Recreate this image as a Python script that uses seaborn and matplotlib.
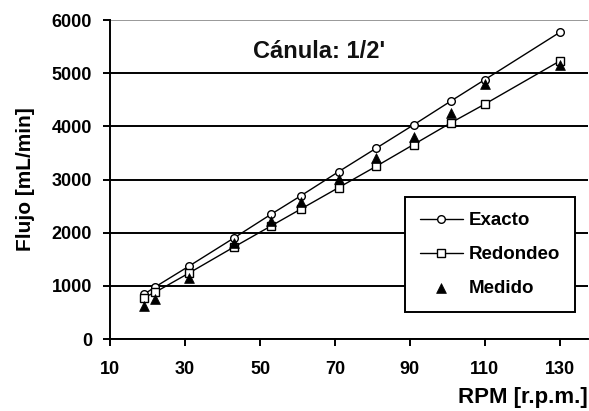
import matplotlib
matplotlib.use("Agg")
import matplotlib.pyplot as plt
import seaborn as sns

# values
rpm = [19, 22, 31, 43, 53, 61, 71, 81, 91, 101, 110, 130]
exacto = [840, 980, 1370, 1900, 2350, 2700, 3150, 3590, 4030, 4480, 4880, 5770]
redondeo = [780, 880, 1240, 1730, 2130, 2450, 2850, 3250, 3660, 4070, 4420, 5230]
medido = [620, 760, 1140, 1800, 2220, 2580, 3010, 3410, 3810, 4250, 4800, 5160]

x_ticks = [10, 30, 50, 70, 90, 110, 130]
y_ticks = [0, 1000, 2000, 3000, 4000, 5000, 6000]

sns.set_theme(style="white")
plt.rcParams['font.family'] = ['Liberation Sans', 'DejaVu Sans']
plt.rcParams['font.weight'] = 'bold'
plt.rcParams['text.color'] = 'black'
plt.rcParams['axes.labelcolor'] = 'black'

fig = plt.figure(figsize=(5.89, 4.11), dpi=100)
ax = fig.add_axes([0.187, 0.175, 0.811, 0.776])

sns.lineplot(x=rpm, y=exacto, ax=ax, color='black', linewidth=1,
             marker='o', markersize=5.5, markerfacecolor='white',
             markeredgecolor='black', markeredgewidth=1, label='Exacto', zorder=3)
sns.lineplot(x=rpm, y=redondeo, ax=ax, color='black', linewidth=1,
             marker='s', markersize=5.5, markerfacecolor='white',
             markeredgecolor='black', markeredgewidth=1, label='Redondeo', zorder=3)
sns.scatterplot(x=rpm, y=medido, ax=ax, color='black', marker='^', s=50,
                edgecolor='black', linewidth=0.5, label='Medido', zorder=4)

ax.set_xlim(10, 137.5)
ax.set_ylim(0, 6000)
ax.set_xticks(x_ticks)
ax.set_yticks(y_ticks)

ax.yaxis.grid(True, color='black', linewidth=1.4)
ax.xaxis.grid(False)
ax.get_ygridlines()[-1].set_color('0.6')
ax.set_axisbelow(True)

for side in ['top', 'right']:
    ax.spines[side].set_visible(False)
for side in ['left', 'bottom']:
    ax.spines[side].set_color('black')
    ax.spines[side].set_linewidth(1.4)

ax.tick_params(axis='both', which='major', direction='out', length=5, width=1.4,
               color='black', labelsize=13, labelcolor='black')
ax.tick_params(axis='y', pad=8, left=True)
ax.tick_params(axis='x', pad=11, bottom=True)
for lbl in ax.get_xticklabels() + ax.get_yticklabels():
    lbl.set_fontweight('bold')

ax.set_xlabel('RPM [r.p.m.]', fontsize=16, fontweight='bold', loc='right', labelpad=6)
ax.set_ylabel('Flujo [mL/min]', fontsize=15, fontweight='bold', labelpad=12)

ax.text(0.299, 0.903, "Cánula: 1/2'", transform=ax.transAxes, ha='left', va='center',
        fontsize=17, fontweight='bold', color='#111111')

leg = ax.legend(loc='upper left', bbox_to_anchor=(0.617, 0.445), frameon=True,
                fancybox=False, shadow=False, prop={'weight': 'bold', 'size': 13.5},
                handlelength=2.3, handletextpad=0.3, labelspacing=0.9,
                borderpad=0.8, borderaxespad=0)
leg.get_frame().set_edgecolor('black')
leg.get_frame().set_linewidth(1.4)
leg.get_frame().set_facecolor('white')
leg.get_frame().set_alpha(1)
for t in leg.get_texts():
    t.set_fontweight('bold')

fig.savefig('out.png', dpi=100)
